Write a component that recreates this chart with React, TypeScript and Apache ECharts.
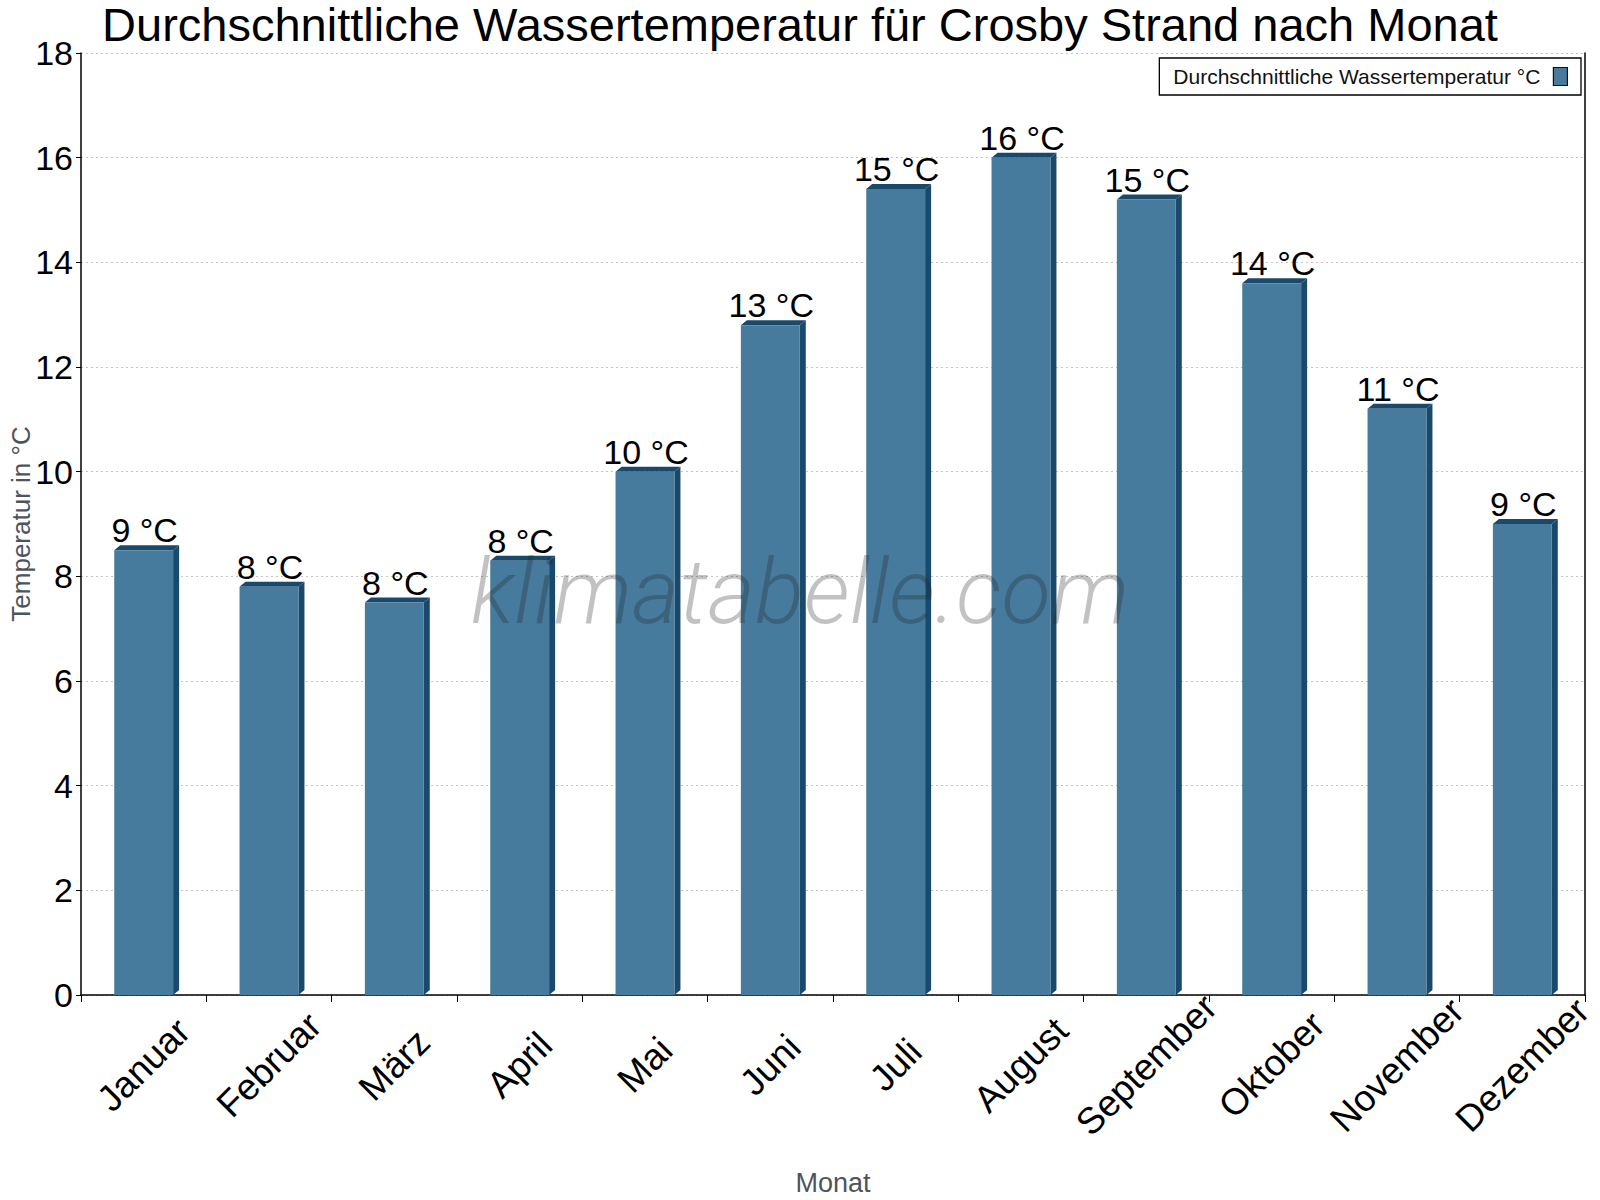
import { useEffect, useRef } from 'react';
import * as echarts from 'echarts';

const months = [
  'Januar', 'Februar', 'März', 'April', 'Mai', 'Juni',
  'Juli', 'August', 'September', 'Oktober', 'November', 'Dezember'
];
const waterTemp = [8.5, 7.8, 7.5, 8.3, 10.0, 12.8, 15.4, 16.0, 15.2, 13.6, 11.2, 9.0];
const yTicks = { min: 0, max: 18, interval: 2 };

const seriesName = 'Durchschnittliche Wassertemperatur °C';
const FONT = '"Liberation Sans", Arial, sans-serif';
const FRONT = '#477b9e';
const DARK = '#1a4a6b';

export default function App() {
  const chartRef = useRef<HTMLDivElement>(null);

  useEffect(() => {
    document.body.style.margin = '0';
    if (!chartRef.current) return;
    const chart = echarts.init(chartRef.current, null, { renderer: 'svg' });

    const option: any = {
      animation: false,
      backgroundColor: '#fff',
      textStyle: { fontFamily: FONT },
      title: {
        text: 'Durchschnittliche Wassertemperatur für Crosby Strand nach Monat',
        left: 'center',
        top: 3,
        padding: 0,
        textStyle: { fontSize: 47, lineHeight: 42, fontWeight: 'normal', color: '#000', fontFamily: FONT }
      },
      legend: {
        right: 19,
        top: 58,
        align: 'right',
        padding: [8, 13, 8, 14],
        borderColor: '#000',
        borderWidth: 1.3,
        itemWidth: 14,
        itemHeight: 18,
        textStyle: { fontSize: 21, color: '#111', fontFamily: FONT, padding: [0, 8, 0, 0] },
        data: [{
          name: seriesName,
          icon: 'rect',
          itemStyle: { color: FRONT, borderColor: '#111', borderWidth: 1.2 }
        }]
      },
      grid: { left: 81, right: 15, top: 53, bottom: 205, containLabel: false, outerBoundsMode: 'none' },
      xAxis: {
        type: 'category',
        data: months,
        boundaryGap: true,
        name: 'Monat',
        nameLocation: 'middle',
        nameGap: 174,
        nameTextStyle: { fontSize: 27, color: '#4d545c', fontFamily: FONT },
        axisLine: { lineStyle: { color: '#000', width: 1.5 } },
        axisTick: { show: true, alignWithLabel: false, length: 7, lineStyle: { color: '#000' } },
        axisLabel: {
          interval: 0,
          rotate: 45,
          align: 'center',
          verticalAlign: 'middle',
          margin: 70,
          fontSize: 37,
          color: '#000',
          fontFamily: FONT
        },
        splitLine: { show: false }
      },
      yAxis: [
        {
          type: 'value',
          min: yTicks.min,
          max: yTicks.max,
          interval: yTicks.interval,
          name: 'Temperatur in °C',
          nameLocation: 'middle',
          nameGap: 47,
          nameMoveOverlap: false,
          nameTextStyle: { fontSize: 26, color: '#4d545c', fontFamily: FONT },
          axisLine: { show: true, lineStyle: { color: '#000', width: 1.5 } },
          axisTick: { show: true, length: 5, lineStyle: { color: '#000' } },
          axisLabel: { fontSize: 34, color: '#000', margin: 8, fontFamily: FONT },
          splitLine: { show: true, lineStyle: { color: '#c4c4c4', type: [2, 3], width: 1 } }
        },
        {
          type: 'value',
          position: 'right',
          min: yTicks.min,
          max: yTicks.max,
          interval: yTicks.interval,
          axisLine: { show: true, lineStyle: { color: '#000', width: 1.5 } },
          axisTick: { show: false },
          axisLabel: { show: false },
          splitLine: { show: false }
        }
      ],
      graphic: [
        {
          type: 'text',
          left: 'center',
          top: 546,
          z: 100,
          silent: true,
          style: {
            text: 'klimatabelle.com',
            fontSize: 91,
            fontStyle: 'italic',
            fontWeight: 300,
            fontFamily: 'Roboto, "Liberation Sans", sans-serif',
            fill: 'rgba(30,30,30,0.27)'
          }
        }
      ],
      series: [
        {
          name: seriesName,
          type: 'custom',
          itemStyle: { color: FRONT },
          data: waterTemp.map((v, i) => [i, v]),
          renderItem: (_params: any, api: any) => {
            const idx = api.value(0);
            const val = api.value(1);
            const base = api.coord([idx, 0]);
            const top = api.coord([idx, val]);
            const bw = api.size([1, 0])[0] * 0.47;
            const x0 = base[0] - bw / 2;
            const x1 = base[0] + bw / 2;
            const dx = 6;
            const dy = 5;
            return {
              type: 'group',
              children: [
                {
                  type: 'polygon',
                  shape: { points: [[x1, top[1]], [x1 + dx, top[1] - dy], [x1 + dx, base[1] - dy], [x1, base[1]]] },
                  style: { fill: DARK }
                },
                {
                  type: 'polygon',
                  shape: { points: [[x0, top[1]], [x0 + dx, top[1] - dy], [x1 + dx, top[1] - dy], [x1, top[1]]] },
                  style: { fill: DARK }
                },
                {
                  type: 'rect',
                  shape: { x: x0, y: top[1], width: bw, height: base[1] - top[1] },
                  style: { fill: FRONT }
                },
                {
                  type: 'text',
                  style: {
                    text: Math.round(val) + ' °C',
                    x: base[0] + 1,
                    y: top[1] - dy + 2,
                    align: 'center',
                    verticalAlign: 'bottom',
                    fontSize: 34,
                    fontFamily: FONT,
                    fill: '#000'
                  }
                }
              ]
            };
          }
        }
      ]
    };

    chart.setOption(option);
    return () => chart.dispose();
  }, []);

  return (
    <div
      ref={chartRef}
      style={{ position: 'absolute', left: 0, top: 0, width: 1600, height: 1200 }}
    />
  );
}
